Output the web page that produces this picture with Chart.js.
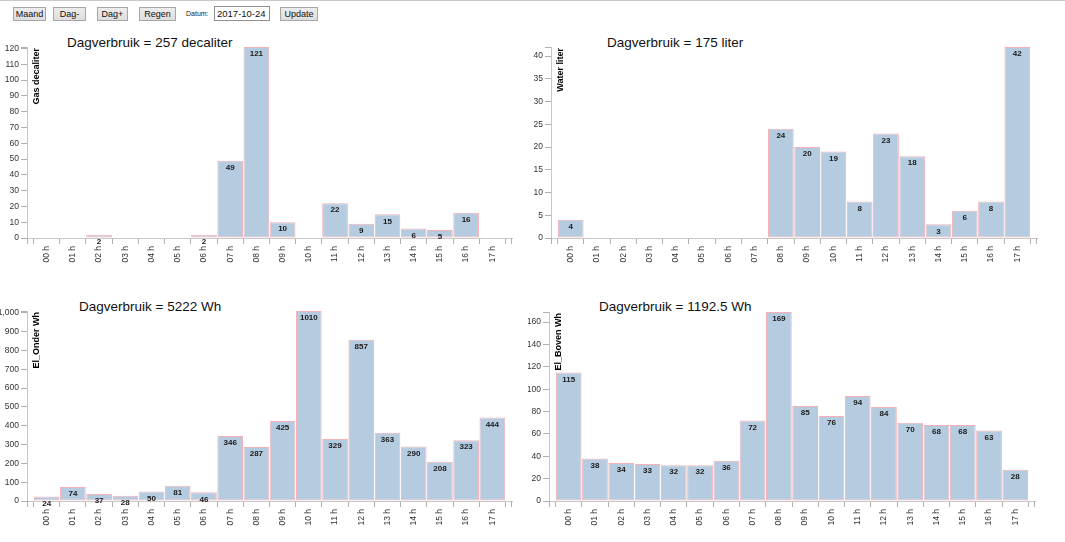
<!DOCTYPE html>
<html>
<head>
<meta charset="utf-8">
<script src="https://cdn.jsdelivr.net/npm/chart.js@4.4.1/dist/chart.umd.min.js"></script>
<style>
  body {
    margin: 0;
    width: 1065px;
    height: 542px;
    position: relative;
    overflow: hidden;
    background: #fff;
    font-family: "Liberation Sans", Arial, sans-serif;
    border-top: 1px solid #c8c8c8;
    box-sizing: border-box;
  }
  .btn {
    position: absolute;
    top: 6px;
    height: 14px;
    box-sizing: border-box;
    border: 1px solid #a6a6a6;
    background: linear-gradient(#ececec, #dedede);
    font: 9px "Liberation Sans", Arial, sans-serif;
    color: #111;
    text-align: center;
    line-height: 12px;
  }
  .lbl { position: absolute; top: 9px; left: 186px; font-size: 7px; color: #222; }
  .inp {
    position: absolute; top: 5px; left: 214px; width: 56px; height: 15px;
    box-sizing: border-box; border: 1px solid #8f8f8f; background: #fff;
    font-size: 9.5px; line-height: 13px; padding-left: 2px; color: #111;
  }
  .title { position: absolute; font-size: 13.5px; line-height: 16px; color: #111; white-space: nowrap; }
  canvas { position: absolute; }
</style>
</head>
<body>
<div class="btn" style="left:13px;width:33px">Maand</div>
<div class="btn" style="left:53px;width:33px">Dag-</div>
<div class="btn" style="left:97px;width:31px">Dag+</div>
<div class="btn" style="left:139px;width:37px">Regen</div>
<div class="lbl">Datum:</div>
<div class="inp">2017-10-24</div>
<div class="btn" style="left:280px;width:38px">Update</div>

<div class="title" style="left:67px;top:34px">Dagverbruik = 257 decaliter</div>
<div class="title" style="left:607px;top:34px">Dagverbruik = 175 liter</div>
<div class="title" style="left:79px;top:298px">Dagverbruik = 5222 Wh</div>
<div class="title" style="left:599px;top:298px">Dagverbruik = 1192.5 Wh</div>

<canvas id="gasChart" width="530" height="244" style="left:0;top:28px"></canvas>
<canvas id="waterChart" width="535" height="244" style="left:530px;top:28px"></canvas>
<canvas id="onderChart" width="530" height="250" style="left:0;top:290px"></canvas>
<canvas id="bovenChart" width="537" height="250" style="left:528px;top:290px"></canvas>

<script>
const hours = ["00 h", "01 h", "02 h", "03 h", "04 h", "05 h", "06 h", "07 h", "08 h",
  "09 h", "10 h", "11 h", "12 h", "13 h", "14 h", "15 h", "16 h", "17 h"];

// null = geen meting in dat uur
const gasValues = [null, null, 2, null, null, null, 2, 49, 121, 10, null, 22, 9, 15, 6, 5, 16, null];
const waterValues = [4, null, null, null, null, null, null, null, 24, 20, 19, 8, 23, 18, 3, 6, 8, 42];
const elOnderValues = [24, 74, 37, 28, 50, 81, 46, 346, 287, 425, 1010, 329, 857, 363, 290, 208, 323, 444];
const elBovenValues = [115, 38, 34, 33, 32, 32, 36, 72, 169, 85, 76, 94, 84, 70, 68, 68, 63, 28];

const FONT = '"Liberation Sans", Arial, sans-serif';
const BAR_FILL = "#b4cbe0";
const BAR_BORDER = "#f6b1b7";
const AXIS_COLOR = "#c8c8c8";
const TICK_COLOR = "#b0b0b0";

// waarde in de balk, as-titel en de buitenste tickjes van de assen
const barExtras = {
  id: "barExtras",
  afterDatasetsDraw(chart) {
    const ctx = chart.ctx;
    const meta = chart.getDatasetMeta(0);
    const values = chart.data.datasets[0].data;
    ctx.save();
    ctx.font = "bold 8px " + FONT;
    ctx.fillStyle = "#1a1a1a";
    ctx.textAlign = "center";
    ctx.textBaseline = "middle";
    meta.data.forEach((bar, i) => {
      if (values[i].y == null) return;
      ctx.fillText(values[i].y, bar.x, bar.y + 7);
    });
    ctx.restore();
  },
  afterDraw(chart, args, opts) {
    const { ctx, chartArea: a } = chart;
    ctx.save();
    ctx.strokeStyle = TICK_COLOR;
    ctx.lineWidth = 1;
    ctx.beginPath();
    ctx.moveTo(a.left + 0.5, a.bottom);
    ctx.lineTo(a.left + 0.5, a.bottom + 6);
    ctx.moveTo(a.right - 0.5, a.bottom);
    ctx.lineTo(a.right - 0.5, a.bottom + 6);
    ctx.moveTo(a.left, a.top + 0.5);
    ctx.lineTo(a.left - 6, a.top + 0.5);
    ctx.stroke();

    ctx.translate(a.left + 12, a.top + 1);
    ctx.rotate(-Math.PI / 2);
    ctx.font = "bold 9px " + FONT;
    ctx.fillStyle = "#000";
    ctx.textAlign = "right";
    ctx.textBaseline = "alphabetic";
    ctx.fillText(opts.yTitle, 0, 0);
    ctx.restore();
  },
};

function makeChart(id, values, yTitle, step, yWidth, xHeight, padTop, padRight) {
  const points = values.map((v, i) => ({ x: i, y: v }));
  const maxVal = Math.max(...values.filter((v) => v != null));
  return new Chart(document.getElementById(id), {
    type: "bar",
    data: {
      datasets: [
        {
          data: points,
          backgroundColor: BAR_FILL,
          borderColor: BAR_BORDER,
          borderWidth: 1,
          borderSkipped: false,
          categoryPercentage: 1,
          barPercentage: 0.98,
          clip: false,
        },
      ],
    },
    options: {
      responsive: false,
      animation: false,
      layout: { padding: { top: padTop, right: padRight, left: 0, bottom: 0 } },
      plugins: {
        legend: { display: false },
        tooltip: { enabled: false },
        barExtras: { yTitle: yTitle },
      },
      scales: {
        x: {
          type: "linear",
          offset: false,
          min: -0.75,
          max: 17.75,
          afterFit: (scale) => {
            scale.height = xHeight;
            scale.paddingLeft = 0;
            scale.paddingRight = 0;
          },
          afterBuildTicks: (scale) => {
            scale.ticks = hours.map((_, i) => ({ value: i }));
          },
          grid: {
            drawOnChartArea: false,
            drawTicks: true,
            tickLength: 6,
            color: TICK_COLOR,
          },
          border: { display: true, color: AXIS_COLOR },
          ticks: {
            autoSkip: false,
            minRotation: 90,
            maxRotation: 90,
            padding: 2,
            color: "#333",
            font: { family: FONT, size: 8.5 },
            callback: (value) => hours[value],
          },
        },
        y: {
          min: 0,
          max: maxVal,
          afterFit: (scale) => {
            scale.width = yWidth;
            scale.paddingTop = 0;
            scale.paddingBottom = 0;
          },
          afterBuildTicks: (scale) => {
            const ticks = [];
            for (let v = 0; v <= maxVal; v += step) ticks.push({ value: v });
            scale.ticks = ticks;
          },
          grid: {
            drawOnChartArea: false,
            drawTicks: true,
            tickLength: 6,
            color: TICK_COLOR,
          },
          border: { display: true, color: AXIS_COLOR },
          ticks: {
            padding: 2,
            color: "#333",
            font: { family: FONT, size: 8.5 },
          },
        },
      },
    },
    plugins: [barExtras],
  });
}

makeChart("gasChart", gasValues, "Gas decaliter", 10, 27, 35, 18, 18);
makeChart("waterChart", waterValues, "Water liter", 5, 21, 35, 18, 28);
makeChart("onderChart", elOnderValues, "El_Onder Wh", 100, 27, 40, 20, 18);
makeChart("bovenChart", elBovenValues, "El_Boven Wh", 20, 21, 40, 21, 30);
</script>
</body>
</html>
